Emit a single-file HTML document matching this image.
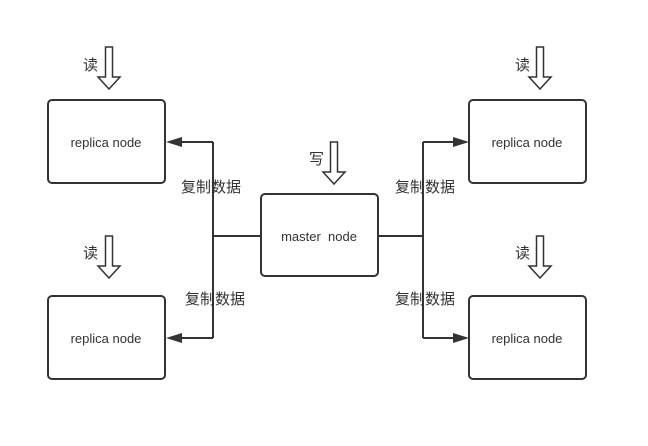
<!DOCTYPE html>
<html><head><meta charset="utf-8"><style>
body{margin:0;background:#fff;}
svg text{font-family:"Liberation Sans","Noto Sans CJK SC",sans-serif;fill:#333;}
</style></head><body>
<svg width="648" height="441" viewBox="0 0 648 441" xmlns="http://www.w3.org/2000/svg">
<defs>
<g id="ha"><path d="M-3.5 0 H3.5 V30 H11 L0 42 L-11 30 H-3.5 Z" fill="#fff" stroke="#333" stroke-width="1.5"/></g>
</defs>
<g fill="#fff" stroke="#333" stroke-width="2">
<rect x="48" y="100" width="117" height="83" rx="4"/>
<rect x="48" y="296" width="117" height="83" rx="4"/>
<rect x="469" y="100" width="117" height="83" rx="4"/>
<rect x="469" y="296" width="117" height="83" rx="4"/>
<rect x="261" y="194" width="117" height="82" rx="4"/>
</g>
<g stroke="#333" stroke-width="2" fill="none">
<path d="M261 236 H213 M213 142 V338 M213 142 H180 M213 338 H180"/>
<path d="M378 236 H423 M423 142 V338 M423 142 H455 M423 338 H455"/>
</g>
<g fill="#333">
<path d="M166 142 L182 137 L182 147 Z"/>
<path d="M166 338 L182 333 L182 343 Z"/>
<path d="M469 142 L453 137 L453 147 Z"/>
<path d="M469 338 L453 333 L453 343 Z"/>
</g>
<use href="#ha" x="109" y="47"/>
<use href="#ha" x="109" y="236"/>
<use href="#ha" x="540" y="47"/>
<use href="#ha" x="540" y="236"/>
<use href="#ha" x="334" y="142"/>
<g font-size="13" text-anchor="middle">
<text x="106" y="147">replica node</text>
<text x="106" y="343">replica node</text>
<text x="527" y="147">replica node</text>
<text x="527" y="343">replica node</text>
<text x="319" y="241" xml:space="preserve">master  node</text>
</g>
<g font-size="15">
<text x="83" y="70">读</text>
<text x="83" y="258">读</text>
<text x="515" y="70">读</text>
<text x="515" y="258">读</text>
<text x="309" y="164">写</text>
<text x="181" y="192">复制数据</text>
<text x="185" y="304">复制数据</text>
<text x="395" y="192">复制数据</text>
<text x="395" y="304">复制数据</text>
</g>
</svg>
</body></html>
